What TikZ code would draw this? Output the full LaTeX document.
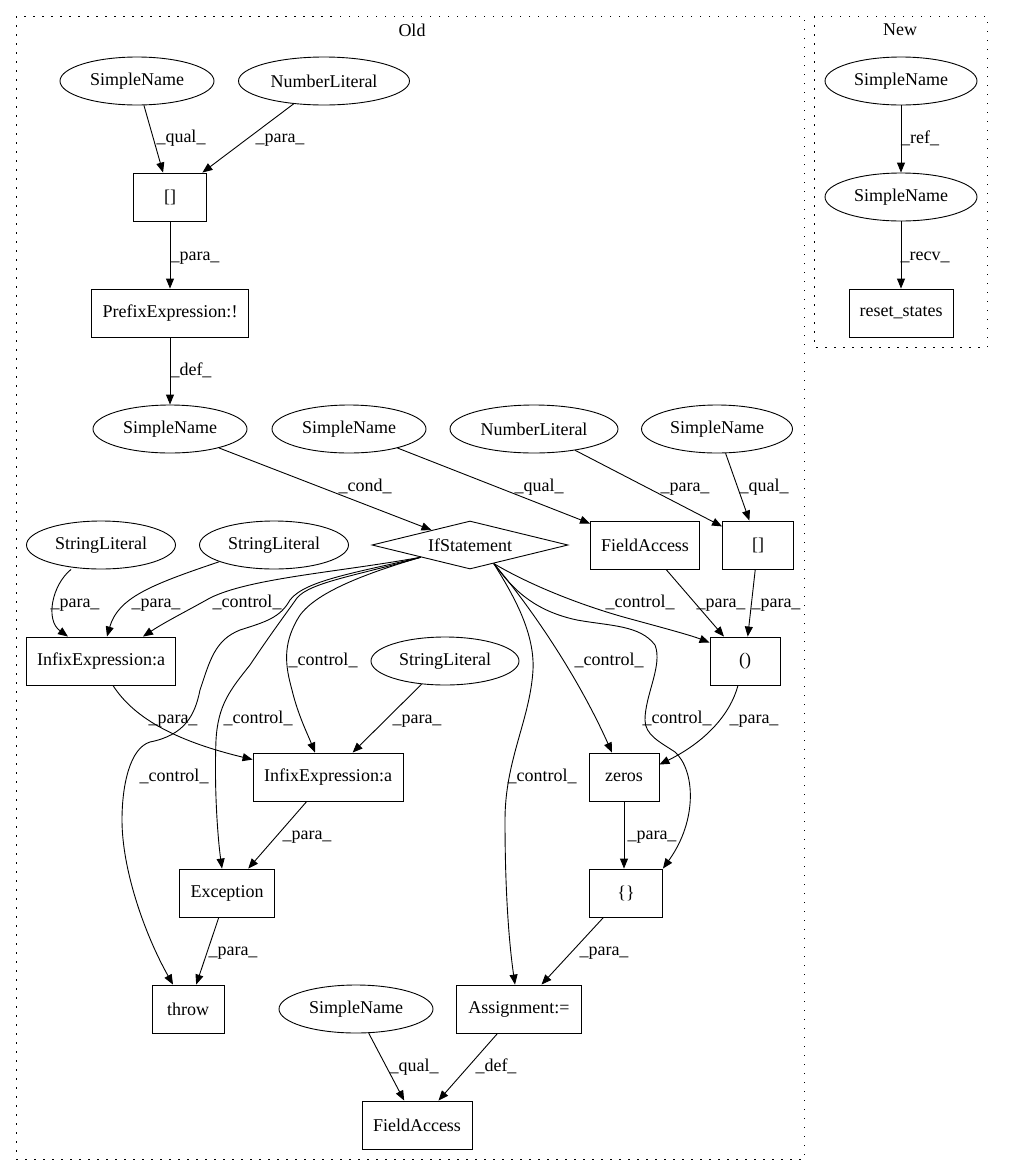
\documentclass[tikz,border=0pt]{standalone}
\usepackage{fontspec}
\setmainfont{Liberation Serif}
\usetikzlibrary{shapes.geometric,arrows.meta}
\begin{document}
\begin{tikzpicture}[x=1pt,y=-1pt,line width=0.9pt,
  base/.style={font=\fontsize{18}{21}\selectfont, inner sep=0pt, draw, line width=0.9pt},
  ell/.style={base, ellipse, minimum height=48pt},
  box/.style={base, rectangle, minimum height=48pt},
  dia/.style={base, diamond, aspect=4, minimum width=196pt, minimum height=48pt},
  lbl/.style={font=\fontsize{18}{21}\selectfont, inner sep=0pt, text height=12pt, text depth=4pt},
  ttl/.style={font=\fontsize{18}{21}\selectfont, inner sep=0pt},
  edge/.style={-{Triangle[length=10pt,width=8pt]}, line width=0.9pt},
  cluster/.style={dash pattern=on 1.5pt off 7.5pt, line width=0.9pt}]
\useasboundingbox (0,0) rectangle (1013,1176);

% clusters
\draw[cluster] (16,16) rectangle (804,1159);
\draw[cluster] (814,16) rectangle (987,347);
\node[ttl] (oldt) at (412,30) {Old};
\node[ttl] (newt) at (900,30) {New};

% Old nodes
\node[ell, minimum width=154pt] (SN1) at (137,81) {SimpleName};
\node[ell, minimum width=171pt] (NL1) at (324,81) {NumberLiteral};
\node[box, minimum width=73pt] (B1) at (170,197) {[]};
\node[box, minimum width=157pt] (PRE) at (170,313) {PrefixExpression:!};
\node[ell, minimum width=154pt] (SN2) at (170,429) {SimpleName};
\node[ell, minimum width=154pt] (SN3) at (349,429) {SimpleName};
\node[ell, minimum width=168pt] (NL2) at (534,429) {NumberLiteral};
\node[ell, minimum width=151pt] (SN4) at (717,429) {SimpleName};
\node[dia] (IF) at (470,545) {IfStatement};
\node[box, minimum width=109pt] (FA1) at (645,545) {FieldAccess};
\node[box, minimum width=71pt] (B2) at (758,545) {[]};
\node[ell, minimum width=149pt] (SL1) at (101,545) {StringLiteral};
\node[ell, minimum width=149pt] (SL2) at (274,545) {StringLiteral};
\node[box, minimum width=149pt] (INF1) at (101,661) {InfixExpression:a};
\node[ell, minimum width=148pt] (SL3) at (445,661) {StringLiteral};
\node[box, minimum width=70pt] (PAR) at (745,661) {()};
\node[box, minimum width=150pt] (INF2) at (328,777) {InfixExpression:a};
\node[box, minimum width=70pt] (ZER) at (624,777) {zeros};
\node[box, minimum width=95pt] (EXC) at (227,893) {Exception};
\node[box, minimum width=73pt] (BR) at (626,893) {\{\}};
\node[box, minimum width=72pt] (THR) at (188,1009) {throw};
\node[ell, minimum width=154pt] (SN5) at (356,1009) {SimpleName};
\node[box, minimum width=125pt] (ASG) at (519,1009) {Assignment:=};
\node[box, minimum width=110pt] (FA2) at (417,1125) {FieldAccess};

% New nodes
\node[ell, minimum width=152pt] (NSN1) at (901,81) {SimpleName};
\node[ell, minimum width=152pt] (NSN2) at (901,197) {SimpleName};
\node[box, minimum width=104pt] (RST) at (901,313) {reset\_states};

% straight edges
\draw[edge] (SN1) -- (B1) node[lbl] at (181,138) {\_qual\_};
\draw[edge] (NL1) -- (B1) node[lbl] at (280,138) {\_para\_};
\draw[edge] (B1) -- (PRE) node[lbl] at (195,256) {\_para\_};
\draw[edge] (PRE) -- (SN2) node[lbl] at (191,371) {\_def\_};
\draw[edge] (SN2) -- (IF) node[lbl] at (365,487) {\_cond\_};
\draw[edge] (SN3) -- (FA1) node[lbl] at (539,487) {\_qual\_};
\draw[edge] (NL2) -- (B2) node[lbl] at (685,487) {\_para\_};
\draw[edge] (SN4) -- (B2) node[lbl] at (764,487) {\_qual\_};
\draw[edge] (FA1) -- (PAR) node[lbl] at (721,603) {\_para\_};
\draw[edge] (B2) -- (PAR) node[lbl] at (776,603) {\_para\_};
\draw[edge] (SL3) -- (INF2) node[lbl] at (417,719) {\_para\_};
\draw[edge] (INF2) -- (EXC) node[lbl] at (307,835) {\_para\_};
\draw[edge] (ZER) -- (ZER |- BR.north) node[lbl] at (652,835) {\_para\_};
\draw[edge] (EXC) -- (THR) node[lbl] at (233,951) {\_para\_};
\draw[edge] (BR) -- (ASG) node[lbl] at (604,951) {\_para\_};
\draw[edge] (SN5) -- (FA2) node[lbl] at (414,1067) {\_qual\_};
\draw[edge] (ASG) -- (FA2) node[lbl] at (496,1067) {\_def\_};
\draw[edge] (NSN1) -- (NSN2) node[lbl] at (920,139) {\_ref\_};
\draw[edge] (NSN2) -- (RST) node[lbl] at (925,256) {\_recv\_};

% curved edges
\draw[edge] ([xshift=-30pt]SL1.south) .. controls (52,585) and (45,620) .. ([xshift=-33pt]INF1.north)
  node[lbl] at (75,603) {\_para\_};
\draw[edge] (SL2.197) .. controls (150,585) and (118,598) .. ([xshift=6pt]INF1.north)
  node[lbl] at (156,603) {\_para\_};
\draw[edge] (IF.south west) .. controls (340,572) and (250,578) .. (210,598)
  .. controls (185,612) and (165,622) .. ([xshift=42pt]INF1.north)
  node[lbl] at (247,603) {\_control\_};
\draw[edge] (IF.south west) .. controls (360,572) and (305,580) .. (290,600)
  .. controls (280,618) and (265,622) .. (240,630)
  .. controls (215,640) and (210,660) .. (200,690)
  .. controls (195,715) and (185,735) .. (150,742)
  .. controls (130,748) and (122,785) .. (122,820)
  .. controls (122,870) and (145,935) .. ([xshift=-15pt]THR.north)
  node[lbl] at (174,777) {\_control\_};
\draw[edge] (IF.south west) .. controls (360,575) and (310,582) .. (297,598)
  .. controls (285,615) and (270,635) .. (250,665)
  .. controls (230,690) and (218,705) .. (216,740)
  .. controls (214,790) and (218,840) .. ([xshift=-5pt]EXC.north)
  node[lbl] at (258,719) {\_control\_};
\draw[edge] (IF.south west) .. controls (360,575) and (310,595) .. (297,620)
  .. controls (283,645) and (285,665) .. (292,690)
  .. controls (298,715) and (308,735) .. ([xshift=-13pt]INF2.north)
  node[lbl] at (323,661) {\_control\_};
\draw[edge] ([xshift=12pt]INF1.south) .. controls (135,720) and (180,742) .. ([yshift=-7pt]INF2.north west)
  node[lbl] at (173,719) {\_para\_};
\draw[edge] (IF.-38) .. controls (510,590) and (535,630) .. (533,670)
  .. controls (530,720) and (505,760) .. (505,820)
  .. controls (505,900) and (510,950) .. ([xshift=-4pt]ASG.north)
  node[lbl] at (542,777) {\_control\_};
\draw[edge] (IF.-38) .. controls (525,600) and (575,670) .. ([xshift=-12pt]ZER.north)
  node[lbl] at (609,661) {\_control\_};
\draw[edge] (IF.-38) .. controls (530,585) and (580,605) .. (627,618)
  .. controls (660,627) and (690,635) .. ([yshift=-6pt]PAR.north west)
  node[lbl] at (640,603) {\_control\_};
\draw[edge] (IF.-38) .. controls (510,585) and (530,610) .. (577,620)
  .. controls (610,626) and (640,625) .. (655,645)
  .. controls (663,665) and (645,695) .. (645,720)
  .. controls (645,735) and (660,742) .. (675,752)
  .. controls (695,770) and (698,820) .. (BR.north east)
  node[lbl] at (677,719) {\_control\_};
\draw[edge] ([xshift=-7pt]PAR.south) .. controls (730,715) and (705,742) .. ([yshift=-12pt]ZER.north east)
  node[lbl] at (754,719) {\_para\_};
\end{tikzpicture}
\end{document}
